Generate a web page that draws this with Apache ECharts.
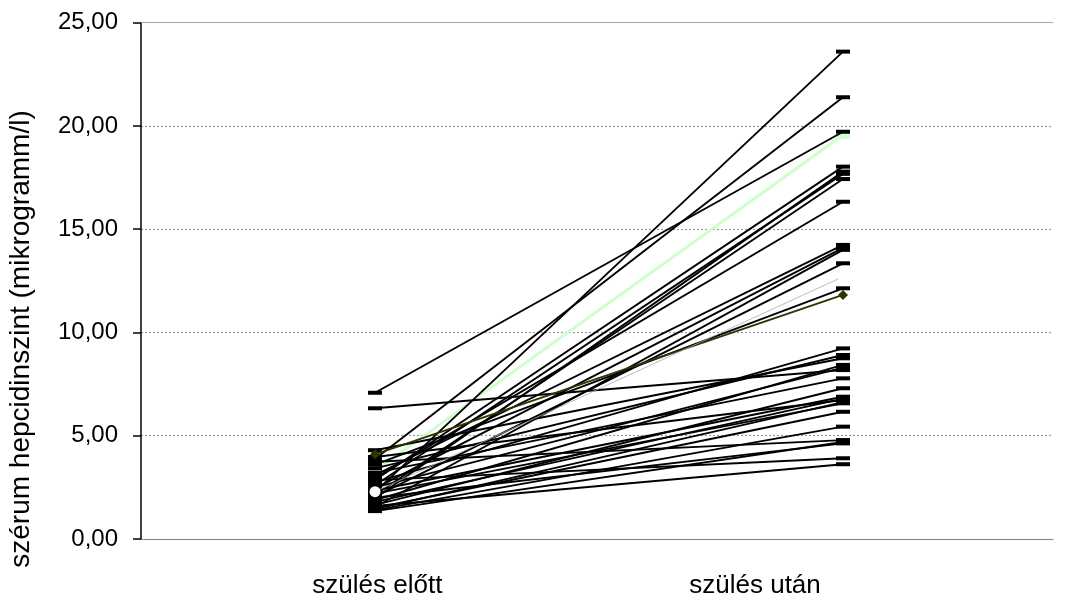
<!DOCTYPE html>
<html>
<head>
<meta charset="utf-8">
<script src="https://cdn.jsdelivr.net/npm/echarts@6/dist/echarts.min.js"></script>
<style>
  html, body { margin: 0; padding: 0; background: #fff; }
  #chart { width: 1065px; height: 600px; }
</style>
</head>
<body>
<div id="chart"></div>
<script>
// Paired serum hepcidin values per patient: before and after delivery
const categories = ['szülés előtt', 'szülés után'];
const before = [2.27, 3.87, 7.08, 3.30, 2.86, 1.97, 2.60, 2.13, 2.95, 3.10, 2.45, 1.55,
                2.05, 2.29, 3.60, 4.10, 2.75, 3.42, 4.30, 1.89, 6.33, 2.50, 3.20, 1.65,
                2.35, 1.80, 3.97, 1.45, 2.20, 1.50, 1.40, 3.74, 1.35, 2.00, 2.85, 1.60];
const after  = [23.60, 21.39, 19.72, 19.56, 18.03, 17.79, 17.68, 17.43, 16.33, 14.24, 14.10, 14.00,
                13.35, 12.70, 12.14, 11.82, 9.23, 8.91, 8.75, 8.43, 8.18, 8.30, 7.78, 7.30,
                6.89, 6.80, 6.73, 6.63, 6.57, 6.16, 5.44, 4.79, 4.70, 4.63, 3.91, 3.62];
const yTicks = [0, 5, 10, 15, 20, 25];
const yTitle = 'szérum hepcidinszint (mikrogramm/l)';

// Three patients are drawn with their own line/marker style
const greenIdx = 3;
const oliveIdx = 15;
const whiteIdx = 13;

const FONT = 'Liberation Sans, Arial, sans-serif';
const chart = echarts.init(document.getElementById('chart'));
const fmtNum = v => v.toFixed(2).replace('.', ',');

const series = before.map((b, i) => {
  const s = {
    type: 'line',
    data: [[0, b], [1, after[i]]],
    symbol: 'rect',
    symbolSize: [14, 4],
    itemStyle: { color: '#000' },
    lineStyle: { color: '#000', width: 1.9 },
    emphasis: { disabled: true },
    animation: false,
    z: 3
  };
  if (i === greenIdx) {
    s.lineStyle = { color: '#ccffcc', width: 3 };
    s.itemStyle = { color: '#ccffcc' };
    s.symbolSize = [14, 8];
    s.z = 1;
  } else if (i === oliveIdx) {
    s.lineStyle = { color: '#333300', width: 1.9 };
    s.itemStyle = { color: '#333300' };
    s.symbol = 'diamond';
    s.symbolSize = 10;
    s.z = 4;
  } else if (i === whiteIdx) {
    s.lineStyle = { color: '#aaaaaa', width: 0.8 };
    s.itemStyle = { color: '#ffffff' };
    s.symbol = 'circle';
    s.symbolSize = 11;
    s.z = 5;
  }
  return s;
});

chart.setOption({
  animation: false,
  grid: { left: 141, right: 12, top: 22.7, bottom: 61 },
  xAxis: [
    {
      type: 'value',
      min: -0.5,
      max: 1.4487,
      position: 'bottom',
      splitLine: { show: false },
      axisLine: { show: true, onZero: false, lineStyle: { color: '#888', width: 1 } },
      axisTick: { show: false },
      axisLabel: {
        customValues: [0.005, 0.812],
        formatter: v => (v < 0.5 ? categories[0] : categories[1]),
        margin: 34,
        fontSize: 26,
        color: '#000',
        fontFamily: FONT
      }
    },
    {
      type: 'value',
      min: -0.5,
      max: 1.4487,
      position: 'top',
      splitLine: { show: false },
      axisLine: { show: true, onZero: false, lineStyle: { color: '#aaa', width: 1 } },
      axisTick: { show: false },
      axisLabel: { show: false }
    }
  ],
  yAxis: {
    type: 'value',
    min: yTicks[0],
    max: yTicks[yTicks.length - 1],
    interval: 5,
    axisLine: { show: true, onZero: false, lineStyle: { color: '#000', width: 1.5 } },
    axisTick: { show: true, inside: false, length: 8, lineStyle: { color: '#000', width: 1.5 } },
    splitLine: { show: true, lineStyle: { color: '#999', type: [2, 2], width: 1.2 } },
    axisLabel: {
      formatter: fmtNum,
      margin: 23,
      fontSize: 24,
      color: '#000',
      fontFamily: FONT
    }
  },
  graphic: [{
    type: 'text',
    x: 7,
    y: 339,
    rotation: Math.PI / 2,
    style: {
      text: yTitle,
      fontSize: 28,
      fill: '#000',
      fontFamily: FONT,
      align: 'center',
      verticalAlign: 'top'
    }
  }],
  series: series
});
</script>
</body>
</html>
